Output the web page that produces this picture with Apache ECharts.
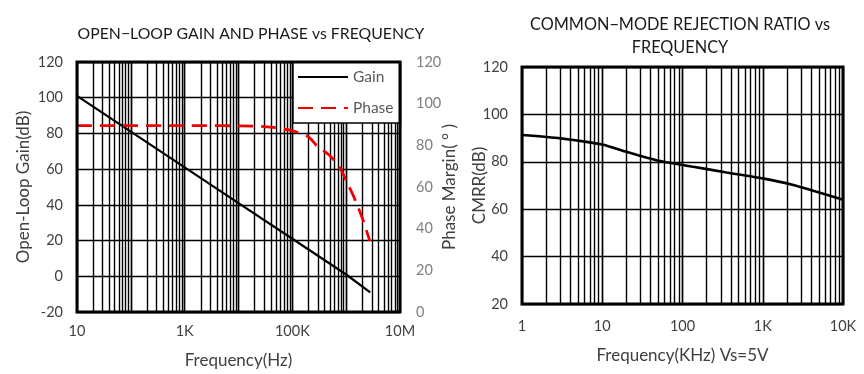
<!DOCTYPE html>
<html><head><meta charset="utf-8">
<script src="https://cdn.jsdelivr.net/npm/echarts@6/dist/echarts.min.js"></script>
<style>html,body{margin:0;padding:0;background:#fff}#c{width:864px;height:374px}</style>
</head><body><div id="c"></div>
<script>
// Left chart: open-loop gain and phase
const gainFreq = [10, 100, 1000, 10000, 100000, 1000000, 2800000];
const gainDb   = [101, 81, 61, 41, 21, 1, -9];
const phaseFreq = [10, 1000, 30000, 100000, 200000, 280000, 500000, 770000, 1000000, 1350000, 2000000, 2750000];
const phaseDeg  = [89.5, 89.5, 89, 87, 84, 80, 75, 69, 63, 56, 45, 34];
const leftXTicks = {10: '10', 1000: '1K', 100000: '100K', 10000000: '10M'};
// Right chart: CMRR
const cmrrFreq = [1, 3, 10, 20, 36, 58, 136, 355, 1000, 2400, 10000];
const cmrrDb   = [91.3, 89.9, 87.3, 84.2, 81.7, 80, 77.9, 75.5, 73, 70.2, 64];
const rightXTicks = {1: '1', 10: '10', 100: '100', 1000: '1K', 10000: '10K'};

function minorLines(lo, hi) {
  const out = [];
  for (let d = lo; d < hi; d *= 10) {
    for (let k = 1; k <= 9; k++) {
      const v = d * k;
      if (v > lo && v < hi) out.push({xAxis: v});
    }
  }
  return out;
}
const F = 'Lato, "Open Sans", sans-serif';
const gridLine = {show: true, lineStyle: {color: '#000', width: 1.4}};
const chart = echarts.init(document.getElementById('c'));
const ml = (lo, hi) => ({silent: true, symbol: 'none', label: {show: false}, z: 2,
  lineStyle: {color: '#000', width: 1.4, type: 'solid'}, emphasis: {disabled: true},
  animation: false, data: minorLines(lo, hi)});
const nameStyle = {fontFamily: F, fontSize: 17, color: '#404040'};
const tickStyle = (c, m) => ({fontFamily: F, fontSize: 14.5, color: c, margin: m});

chart.setOption({
  animation: false,
  title: [
    {text: 'OPEN\u2212LOOP GAIN AND PHASE vs FREQUENCY', left: 246, top: 21, textAlign: 'center',
     textStyle: {fontFamily: F, fontSize: 15.8, fontWeight: 'normal', color: '#1a1a1a'}},
    {text: 'COMMON\u2212MODE REJECTION RATIO vs\nFREQUENCY', left: 675, top: 8, textAlign: 'center',
     textStyle: {fontFamily: F, fontSize: 16.3, fontWeight: 'normal', color: '#1a1a1a', lineHeight: 23}}
  ],
  legend: {
    data: ['Gain', 'Phase'], left: 293, top: 62, orient: 'vertical', itemGap: 15, z: 20,
    itemWidth: 50, itemHeight: 14, backgroundColor: '#fff', borderColor: '#000', borderWidth: 1.5,
    itemStyle: {opacity: 0}, padding: [7, 7, 7, 4],
    textStyle: {fontFamily: F, fontSize: 15.5, color: '#595959'}
  },
  grid: [
    {left: 77, right: 464, top: 62, bottom: 62, show: true, borderColor: '#000', borderWidth: 3, z: 30},
    {left: 522, right: 21, top: 67, bottom: 70, show: true, borderColor: '#000', borderWidth: 3, z: 30}
  ],
  xAxis: [
    {type: 'log', gridIndex: 0, min: 10, max: 10000000, logBase: 10,
     name: 'Frequency(Hz)', nameLocation: 'middle', nameGap: 40, nameMoveOverlap: false, nameTextStyle: nameStyle,
     axisLine: {show: false}, axisTick: {show: false}, splitLine: gridLine,
     axisLabel: Object.assign(tickStyle('#404040', 12), {formatter: v => leftXTicks[Math.round(v)] || ''})},
    {type: 'log', gridIndex: 1, min: 1, max: 10000, logBase: 10,
     name: 'Frequency(KHz) Vs=5V', nameLocation: 'middle', nameGap: 43, nameMoveOverlap: false, nameTextStyle: nameStyle,
     axisLine: {show: false}, axisTick: {show: false}, splitLine: gridLine,
     axisLabel: Object.assign(tickStyle('#404040', 15), {formatter: v => rightXTicks[Math.round(v)] || ''})}
  ],
  yAxis: [
    {type: 'value', gridIndex: 0, min: -20, max: 120, interval: 20,
     name: 'Open-Loop Gain(dB)', nameLocation: 'middle', nameGap: 45, nameMoveOverlap: false, nameTextStyle: nameStyle,
     axisLine: {show: false}, axisTick: {show: false}, splitLine: gridLine,
     axisLabel: tickStyle('#404040', 14)},
    {type: 'value', gridIndex: 0, position: 'right', min: 0, max: 120, interval: 20,
     name: 'Phase Margin( \u00b0 )', nameLocation: 'middle', nameGap: 41, nameMoveOverlap: false, nameTextStyle: nameStyle,
     axisLine: {show: false}, axisTick: {show: false}, splitLine: {show: false},
     axisLabel: tickStyle('#7f7f7f', 16)},
    {type: 'value', gridIndex: 1, min: 20, max: 120, interval: 20,
     name: 'CMRR(dB)', nameLocation: 'middle', nameGap: 34, nameMoveOverlap: false, nameTextStyle: nameStyle,
     axisLine: {show: false}, axisTick: {show: false}, splitLine: gridLine,
     axisLabel: tickStyle('#404040', 14)}
  ],
  series: [
    {name: 'Gain', type: 'line', xAxisIndex: 0, yAxisIndex: 0, showSymbol: false, symbol: 'none',
     data: gainFreq.map((f, i) => [f, gainDb[i]]), lineStyle: {color: '#000', width: 2.2},
     itemStyle: {color: '#000'}, markLine: ml(10, 10000000), z: 3},
    {name: 'Phase', type: 'line', xAxisIndex: 0, yAxisIndex: 1, showSymbol: false, symbol: 'none', smooth: 0.3,
     data: phaseFreq.map((f, i) => [f, phaseDeg[i]]),
     lineStyle: {color: '#f00000', width: 2.8, type: [15, 8]}, itemStyle: {color: '#f00000'}, z: 4},
    {name: 'CMRR', type: 'line', xAxisIndex: 1, yAxisIndex: 2, showSymbol: false, symbol: 'none', smooth: 0.2,
     data: cmrrFreq.map((f, i) => [f, cmrrDb[i]]), lineStyle: {color: '#000', width: 2.6},
     markLine: ml(1, 10000), z: 3}
  ]
});
</script></body></html>
